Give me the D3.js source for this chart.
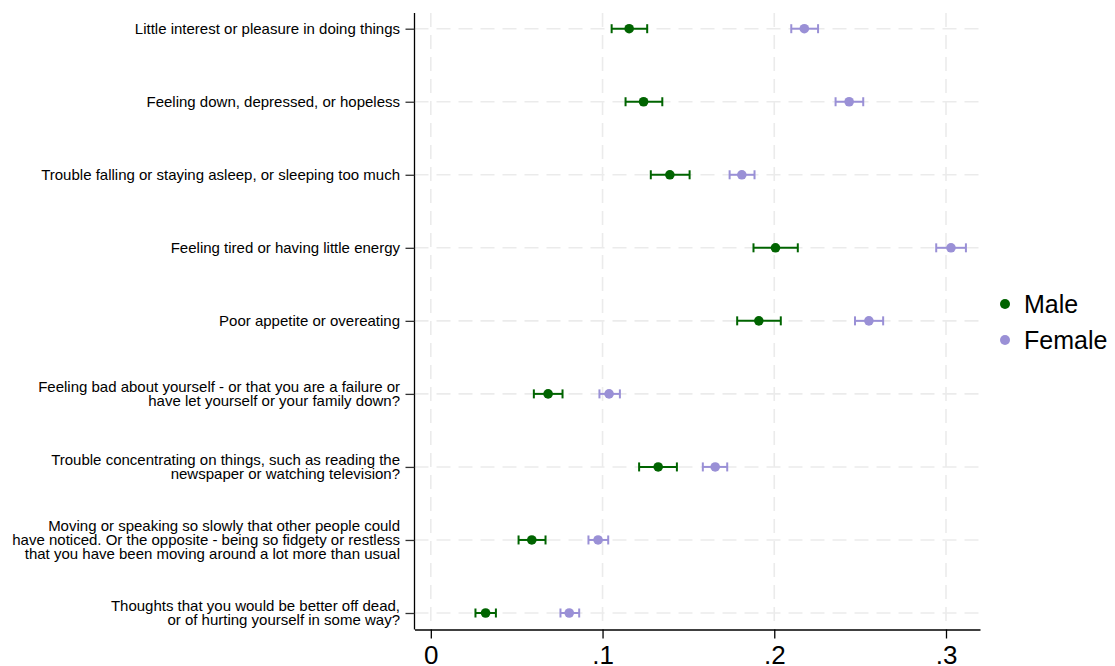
<!DOCTYPE html>
<html>
<head>
<meta charset="utf-8">
<script src="https://cdn.jsdelivr.net/npm/d3@7"></script>
<style>
  body { margin: 0; background: #fff; }
  text { font-family: Arial, "Liberation Sans", sans-serif; fill: #000; }
</style>
</head>
<body>
<svg id="chart" width="1115" height="666"></svg>
<script>
// item labels, one array of lines per item
var items = [
  ["Little interest or pleasure in doing things"],
  ["Feeling down, depressed, or hopeless"],
  ["Trouble falling or staying asleep, or sleeping too much"],
  ["Feeling tired or having little energy"],
  ["Poor appetite or overeating"],
  ["Feeling bad about yourself - or that you are a failure or", "have let yourself or your family down?"],
  ["Trouble concentrating on things, such as reading the", "newspaper or watching television?"],
  ["Moving or speaking so slowly that other people could", "have noticed. Or the opposite - being so fidgety or restless", "that you have been moving around a lot more than usual"],
  ["Thoughts that you would be better off dead,", "or of hurting yourself in some way?"]
];
var maleMean = [0.1155, 0.1239, 0.1392, 0.2007, 0.1910, 0.0683, 0.1324, 0.0588, 0.0319];
var maleLo   = [0.1053, 0.1134, 0.1281, 0.1879, 0.1784, 0.0600, 0.1213, 0.0511, 0.0260];
var maleHi   = [0.1260, 0.1348, 0.1507, 0.2137, 0.2038, 0.0767, 0.1433, 0.0668, 0.0379];
var femMean  = [0.2175, 0.2436, 0.1811, 0.3029, 0.2551, 0.1038, 0.1656, 0.0974, 0.0806];
var femLo    = [0.2099, 0.2357, 0.1740, 0.2943, 0.2470, 0.0982, 0.1584, 0.0918, 0.0755];
var femHi    = [0.2255, 0.2518, 0.1885, 0.3116, 0.2634, 0.1101, 0.1726, 0.1033, 0.0864];
var xTicks = [0, 0.1, 0.2, 0.3];
var groups = ["Male", "Female"];
var colours = ["#006400", "#9a90d6"];

var svg = d3.select("#chart");
// note: "top" is reserved on window, so use plot* names
var plotLeft = 414.5, plotRight = 980, plotTop = 13, plotBottom = 629.5;

var x = d3.scaleLinear().domain([-0.0095, 0.3198]).range([plotLeft, plotRight]);
var y = d3.scalePoint().domain(d3.range(items.length)).range([28.7, 613]);

// grid
svg.append("g").selectAll("line").data(xTicks).enter().append("line")
  .attr("x1", function(d){ return x(d); }).attr("x2", function(d){ return x(d); })
  .attr("y1", plotTop).attr("y2", plotBottom)
  .attr("stroke", "#ebebeb").attr("stroke-width", 1.6).attr("stroke-dasharray", "14,8");
svg.append("g").selectAll("line").data(d3.range(items.length)).enter().append("line")
  .attr("x1", plotLeft).attr("x2", plotRight)
  .attr("y1", function(d){ return y(d); }).attr("y2", function(d){ return y(d); })
  .attr("stroke", "#ebebeb").attr("stroke-width", 1.6).attr("stroke-dasharray", "14,8");

// axes
var xAxis = svg.append("g").attr("transform", "translate(0," + plotBottom + ")")
  .call(d3.axisBottom(x).tickValues(xTicks).tickSizeOuter(0).tickSizeInner(9).tickPadding(7)
    .tickFormat(function(d){ return d === 0 ? "0" : String(d).replace(/^0/, ""); }));
xAxis.select(".domain").attr("stroke", "#000").attr("stroke-width", 1.3);
xAxis.selectAll(".tick line").attr("stroke", "#000").attr("stroke-width", 1.3);
xAxis.selectAll("text").style("font-size", "26px").style("font-family", "Arial, 'Liberation Sans', sans-serif");

var yAxis = svg.append("g").attr("transform", "translate(" + plotLeft + ",0)")
  .call(d3.axisLeft(y).tickSizeOuter(0).tickSizeInner(9).tickFormat(""));
yAxis.select(".domain").attr("stroke", "#000").attr("stroke-width", 1.3)
  .attr("d", "M0," + plotTop + "V" + plotBottom);
yAxis.selectAll(".tick line").attr("stroke", "#333").attr("stroke-width", 1.3);

// multi-line labels
var lineH = 14.2;
svg.append("g").selectAll("text").data(items).enter().append("text")
  .attr("text-anchor", "end")
  .style("font-size", "15px")
  .each(function(lines, i){
    var t = d3.select(this);
    var y0 = y(i) - (lines.length - 1) * lineH / 2;
    lines.forEach(function(s, j){
      t.append("tspan").attr("x", 400).attr("y", y0 + j * lineH).attr("dy", "0.35em").text(s);
    });
  });

// error bars and points
var series = [
  {mean: maleMean, lo: maleLo, hi: maleHi},
  {mean: femMean, lo: femLo, hi: femHi}
];
series.forEach(function(s, k){
  var g = svg.append("g").attr("stroke", colours[k]).attr("fill", colours[k]);
  var rows = d3.range(items.length);
  g.selectAll("line.ci").data(rows).enter().append("line")
    .attr("class", "ci")
    .attr("x1", function(i){ return x(s.lo[i]); }).attr("x2", function(i){ return x(s.hi[i]); })
    .attr("y1", function(i){ return y(i); }).attr("y2", function(i){ return y(i); })
    .attr("stroke-width", 2);
  ["lo", "hi"].forEach(function(key){
    g.selectAll("line.cap" + key).data(rows).enter().append("line")
      .attr("class", "cap" + key)
      .attr("x1", function(i){ return x(s[key][i]); }).attr("x2", function(i){ return x(s[key][i]); })
      .attr("y1", function(i){ return y(i) - 4.5; }).attr("y2", function(i){ return y(i) + 4.5; })
      .attr("stroke-width", 2);
  });
  g.selectAll("circle").data(rows).enter().append("circle")
    .attr("cx", function(i){ return x(s.mean[i]); })
    .attr("cy", function(i){ return y(i); })
    .attr("r", 4.8).attr("stroke", "none");
});

// legend
var legend = svg.append("g").selectAll("g").data(groups).enter().append("g")
  .attr("transform", function(d, i){ return "translate(1005," + (304 + i * 36) + ")"; });
legend.append("circle").attr("r", 5).attr("fill", function(d, i){ return colours[i]; });
legend.append("text").attr("x", 19).attr("dy", "0.35em").style("font-size", "25px").text(function(d){ return d; });
</script>
</body>
</html>
